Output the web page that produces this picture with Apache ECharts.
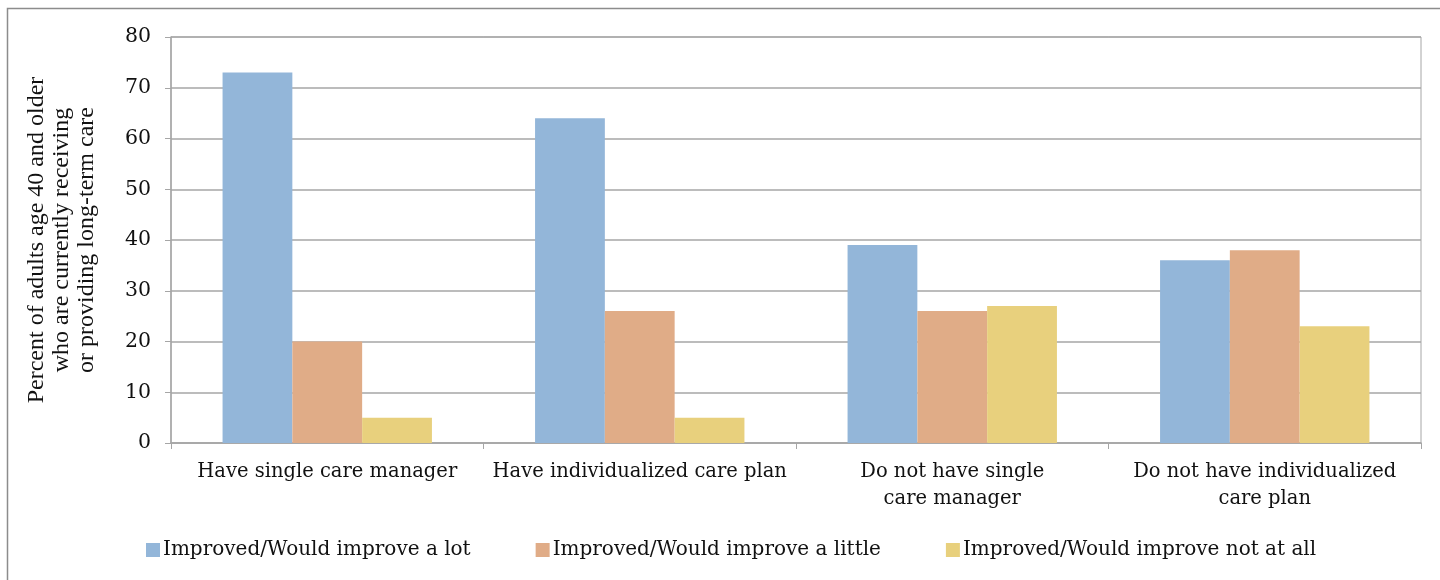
<!DOCTYPE html>
<html>
<head>
<meta charset="utf-8">
<script src="https://cdn.jsdelivr.net/npm/echarts@6/dist/echarts.min.js"></script>
<style>
  html, body { margin: 0; padding: 0; background: #fff; }
  #chart { width: 1440px; height: 580px; }
</style>
</head>
<body>
<div id="chart"></div>
<script>
// categories on the x axis
const categories = [
    'Have single care manager',
    'Have individualized care plan',
    'Do not have single\ncare manager',
    'Do not have individualized\ncare plan'
];
const seriesNames = [
    'Improved/Would improve a lot',
    'Improved/Would improve a little',
    'Improved/Would improve not at all'
];
const improveLot = [73, 64, 39, 36];
const improveLittle = [20, 26, 26, 38];
const improveNone = [5, 5, 27, 23];
const yTicks = [0, 10, 20, 30, 40, 50, 60, 70, 80];

const colors = ['#93B6D9', '#E0AC87', '#E8D07D'];
const textFont = 'DejaVu Serif';

const myChart = echarts.init(document.getElementById('chart'));

const makeBar = (name, data, i) => ({
    name: name,
    type: 'bar',
    data: data,
    barGap: '0%',
    barCategoryGap: '33%',
    itemStyle: { color: colors[i] }
});

const option = {
    animation: false,
    color: colors,
    graphic: [{
        type: 'rect',
        shape: { x: 7.5, y: 8.5, width: 1480, height: 620 },
        style: { fill: 'none', stroke: '#8c8c8c', lineWidth: 1.5 },
        silent: true
    }],
    legend: {
        bottom: 15,
        left: 141,
        itemWidth: 14,
        itemHeight: 14,
        itemGap: 65,
        icon: 'rect',
        textStyle: { fontFamily: textFont, fontSize: 20, color: '#111', padding: [0, 0, 0, -2] },
        data: seriesNames
    },
    grid: {
        left: 171,
        right: 19,
        top: 37,
        bottom: 137,
        show: true,
        borderColor: '#a6a6a6',
        borderWidth: 1
    },
    xAxis: {
        type: 'category',
        data: categories,
        axisLine: { lineStyle: { color: '#a6a6a6', width: 1.5 } },
        axisTick: { show: true, length: 6, lineStyle: { color: '#a6a6a6' } },
        axisLabel: {
            interval: 0,
            fontFamily: textFont,
            fontSize: 19.5,
            color: '#111',
            margin: 15,
            lineHeight: 27
        }
    },
    yAxis: {
        type: 'value',
        min: yTicks[0],
        max: yTicks[yTicks.length - 1],
        interval: 10,
        name: 'Percent of adults age 40 and older\nwho are currently receiving\nor providing long-term care',
        nameLocation: 'middle',
        nameGap: 72,
        nameTextStyle: {
            fontFamily: 'Liberation Serif',
            fontSize: 24,
            color: '#111',
            lineHeight: 25
        },
        axisLine: { show: true, lineStyle: { color: '#a6a6a6', width: 1.5 } },
        axisTick: { show: true, length: 6, lineStyle: { color: '#a6a6a6' } },
        axisLabel: { fontFamily: textFont, fontSize: 20.5, color: '#111', margin: 20 },
        splitLine: { lineStyle: { color: '#a6a6a6', width: 1.5 } }
    },
    series: [
        makeBar(seriesNames[0], improveLot, 0),
        makeBar(seriesNames[1], improveLittle, 1),
        makeBar(seriesNames[2], improveNone, 2)
    ]
};

myChart.setOption(option);
window.addEventListener('resize', () => myChart.resize());
</script>
</body>
</html>
